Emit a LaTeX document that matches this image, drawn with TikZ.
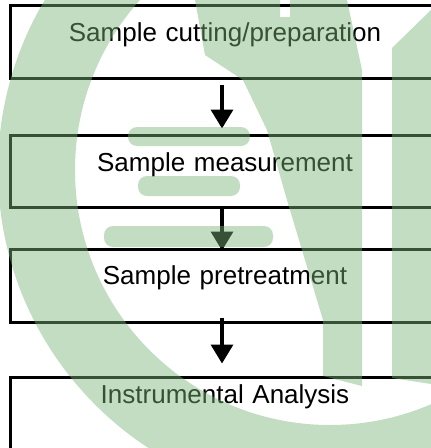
\documentclass[tikz,border=0pt]{standalone}
\usepackage{fontspec}
\setmainfont{Liberation Sans}
\usetikzlibrary{arrows.meta,calc}
\definecolor{wm}{RGB}{120,180,120}
\tikzset{
  stepbox/.style={draw=black, line width=3pt, rectangle, inner xsep=0pt, inner ysep=0pt,
    text width=430pt, align=center, font=\fontsize{26}{30}\selectfont, anchor=base},
  flow/.style={line width=3.5pt, -{Triangle[width=22pt,length=19pt]}},
  wmshape/.style={fill=wm, fill opacity=0.45}
}
\begin{document}
\begin{tikzpicture}[x=1pt,y=1pt]
\path[use as bounding box] (0,-448) rectangle (431,0);
\clip (0,-448) rectangle (431,0);
\fill[white] (0,-448) rectangle (431,0);
% boxes
\node[stepbox, text height=36pt, text depth=37pt] (b1) at (225,-41) {Sample cutting/preparation};
\node[stepbox, text height=36pt, text depth=36pt] (b2) at (225,-171) {Sample measurement};
\node[stepbox, text height=35.5pt, text depth=37.5pt] (b3) at (225,-284.5) {Sample pretreatment};
\node[stepbox, text height=26pt, text depth=46pt] (b4) at (225,-403) {Instrumental Analysis};
% arrows
\draw[flow] ($(b1.south)+(-3,-5)$) -- ($(b2.north)+(-3,5)$);
\draw[flow] ($(b2.south)+(-3,2)$) -- ($(b3.north)+(-3,-3)$);
\draw[flow] ($(b3.south)+(-3,6)$) -- ($(b4.north)+(-3,12)$);
% watermark
\fill[wmshape, even odd rule] (330,-170) circle[radius=332pt] (330,-170) circle[radius=255pt];
\fill[wmshape] (195,0) -- (280,0) -- (280,-17) -- (290,-17) -- (290,0) -- (347,0) -- (362,-70)
  -- (362,-386) -- (323,-376) -- (323,-320) -- (305,-260) -- (287,-200) -- (267,-130)
  -- (243,-80) -- (205,-55) -- cycle;
\fill[wmshape] (392,-48) -- (431,-10) -- (431,-384) -- (392,-378) -- cycle;
\fill[wmshape, rounded corners=9pt] (128,-127) rectangle (250,-146);
\fill[wmshape, rounded corners=9pt] (138,-176) rectangle (240,-196);
\fill[wmshape, rounded corners=9pt] (104,-226) rectangle (273,-247);
\end{tikzpicture}
\end{document}
